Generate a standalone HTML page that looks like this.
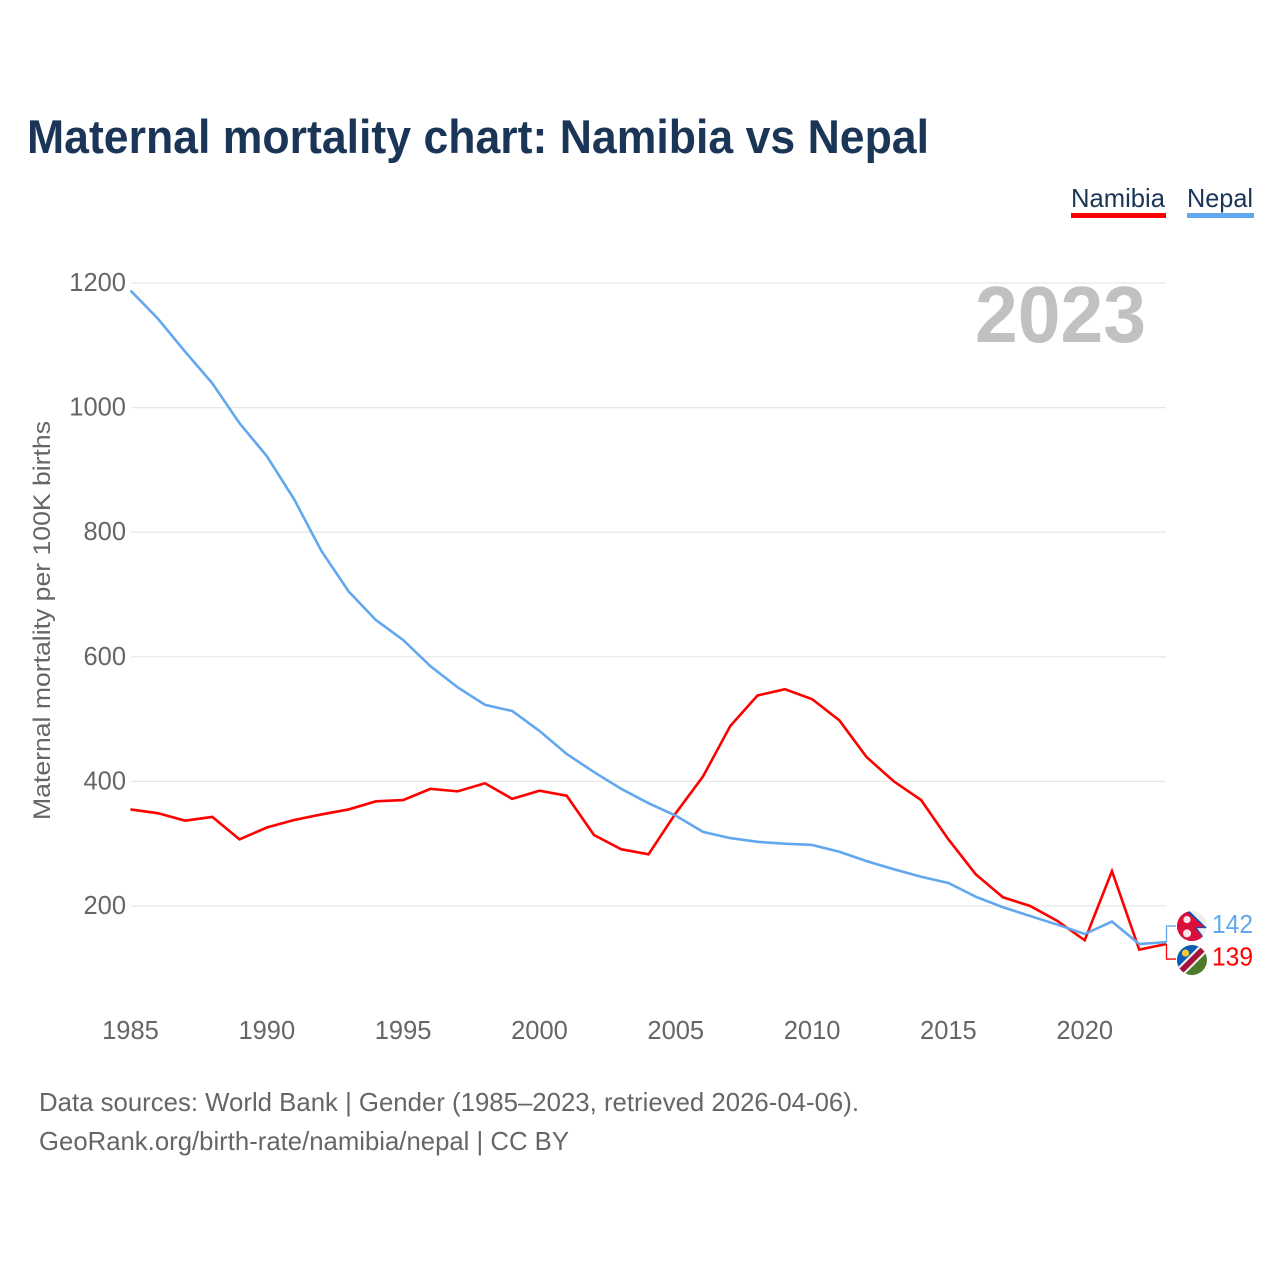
<!DOCTYPE html>
<html lang="en">
<head>
<meta charset="utf-8">
<title>Maternal mortality chart: Namibia vs Nepal</title>
<style>
html,body{margin:0;padding:0;background:#fff;}
svg{display:block;font-family:"Liberation Sans",sans-serif;}
</style>
</head>
<body>
<svg id="chart" xmlns="http://www.w3.org/2000/svg" width="1280" height="1280" viewBox="0 0 1280 1280">
  <defs>
    <clipPath id="flag-clip"><circle cx="0" cy="0" r="15"/></clipPath>
  </defs>
  <rect x="0" y="0" width="1280" height="1280" fill="#ffffff"/>
  <text x="27" y="153" font-size="47" font-weight="700" fill="#1b3557" textLength="902" lengthAdjust="spacingAndGlyphs">Maternal mortality chart: Namibia vs Nepal</text>
  <g id="grid"></g>
  <g id="yticks"></g>
  <g id="xticks"></g>
  <text x="975" y="342" font-size="80" font-weight="700" fill="#c1c1c1" textLength="171" lengthAdjust="spacingAndGlyphs">2023</text>
  <text transform="translate(50,820) rotate(-90)" font-size="24" fill="#666666" textLength="399" lengthAdjust="spacingAndGlyphs">Maternal mortality per 100K births</text>
  <g id="series"></g>
  <g id="end-labels"></g>
  <g>
    <text x="1071" y="207" font-size="26" fill="#1b3557" textLength="94" lengthAdjust="spacingAndGlyphs">Namibia</text>
    <rect x="1071" y="213" width="95" height="5" fill="#ff0000"/>
    <text x="1187" y="207" font-size="26" fill="#1b3557" textLength="66" lengthAdjust="spacingAndGlyphs">Nepal</text>
    <rect x="1187" y="213" width="67" height="5" fill="#62a8ee"/>
  </g>
  <text x="39" y="1111" font-size="26" fill="#666666" textLength="820" lengthAdjust="spacingAndGlyphs">Data sources: World Bank | Gender (1985–2023, retrieved 2026-04-06).</text>
  <text x="39" y="1150" font-size="26" fill="#666666" textLength="530" lengthAdjust="spacingAndGlyphs">GeoRank.org/birth-rate/namibia/nepal | CC BY</text>
</svg>
<script>
const years = [1985,1986,1987,1988,1989,1990,1991,1992,1993,1994,1995,1996,1997,1998,1999,2000,2001,2002,2003,2004,2005,2006,2007,2008,2009,2010,2011,2012,2013,2014,2015,2016,2017,2018,2019,2020,2021,2022,2023];
const nepalValues = [1188,1143,1090,1039,975,922,853,770,705,659,627,585,551,523,513,481,444,415,388,365,345,319,309,303,300,298,287,272,259,247,237,215,198,184,170,155,175,139,142];
const namibiaValues = [355,349,337,343,307,326,338,347,355,368,370,388,384,397,372,385,377,314,291,283,349,408,489,538,548,532,498,439,400,370,307,251,214,200,176,145,256,130,139];
const yTickValues = [200,400,600,800,1000,1200];
const xTickYears = [1985,1990,1995,2000,2005,2010,2015,2020];

const NS = 'http://www.w3.org/2000/svg';
function xScale(year) { return 130.5 + (year - 1985) * (1166.5 - 130.5) / 38; }
function yScale(value) { return 906 + (200 - value) * (906 - 283) / 1000; }
function make(tag, parent, attrs) {
  const el = document.createElementNS(NS, tag);
  for (const k in attrs) el.setAttribute(k, attrs[k]);
  parent.appendChild(el);
  return el;
}

const grid = document.getElementById('grid');
const yticks = document.getElementById('yticks');
yTickValues.forEach(function (v) {
  const line = make('line', grid, {x1: 131, x2: 1166, y1: yScale(v), y2: yScale(v), stroke: '#e8e8e8', 'stroke-width': 1.3});
  
  
  const t = make('text', yticks, {x: 126, y: yScale(v) + 8, 'text-anchor': 'end', 'font-size': 25.5, fill: '#666666'});
  
  
  t.textContent = String(v);
});

const xticks = document.getElementById('xticks');
xTickYears.forEach(function (yr) {
  const t = make('text', xticks, {x: xScale(yr), y: 1039, 'text-anchor': 'middle', 'font-size': 25.5, fill: '#666666'});
  
  
  t.textContent = String(yr);
});

function linePath(values) {
  return values.map(function (v, i) { return (i ? 'L' : 'M') + xScale(years[i]).toFixed(2) + ' ' + yScale(v).toFixed(2); }).join(' ');
}
const series = document.getElementById('series');
const namibiaLine = make('path', series, {d: linePath(namibiaValues), fill: 'none', stroke: '#ff0000', 'stroke-width': 2.6, 'stroke-linejoin': 'miter'});


const nepalLine = make('path', series, {d: linePath(nepalValues), fill: 'none', stroke: '#62a8ee', 'stroke-width': 2.6, 'stroke-linejoin': 'miter'});



/* end labels: placed around the midpoint of the two final values */
const lastNepal = nepalValues[nepalValues.length - 1];
const lastNamibia = namibiaValues[namibiaValues.length - 1];
const endX = xScale(years[years.length - 1]);
const midY = (yScale(lastNepal) + yScale(lastNamibia)) / 2;
const nepalLabelY = midY - 17;
const namibiaLabelY = midY + 17;
const endLabels = document.getElementById('end-labels');

const nepalConn = make('path', endLabels, {d: 'M' + endX + ' ' + yScale(lastNepal) + ' V' + nepalLabelY + ' H1176', fill: 'none', stroke: '#62a8ee', 'stroke-width': 1.3});


const namibiaConn = make('path', endLabels, {d: 'M' + endX + ' ' + yScale(lastNamibia) + ' V' + (namibiaLabelY - 1) + ' H1176', fill: 'none', stroke: '#ff0000', 'stroke-width': 1.3});



/* Nepal flag */
const nepalFlag = make('g', endLabels, {transform: 'translate(1192,' + nepalLabelY + ')', 'clip-path': 'url(#flag-clip)'});


make('rect', nepalFlag, {x: -16, y: -16, width: 32, height: 32, fill: '#eeeeee'});
make('polygon', nepalFlag, {points: '-16,-16 -3,-15.5 15,2 5,2 15,15.5 -16,16', fill: '#0a50b0'});
make('polygon', nepalFlag, {points: '-16,-16 -4.5,-14 12.5,1 2.5,1 13,14 -16,16', fill: '#dc0f3c'});
make('circle', nepalFlag, {cx: -5, cy: -6.5, r: 3.6, fill: '#f7e6ea'});
make('circle', nepalFlag, {cx: -5, cy: 7.3, r: 4, fill: '#f7e6ea'});

/* Namibia flag */
const namibiaFlag = make('g', endLabels, {transform: 'translate(1192,' + namibiaLabelY + ')', 'clip-path': 'url(#flag-clip)'});


make('rect', namibiaFlag, {x: -16, y: -16, width: 32, height: 32, fill: '#4f7a2a'});
make('polygon', namibiaFlag, {points: '-16,-16 16,-16 -16,16', fill: '#0b5cb5'});
make('polygon', namibiaFlag, {points: '-16,9 9,-16 16,-16 16,-9 -9,16 -16,16', fill: '#f2f2f2'});
make('polygon', namibiaFlag, {points: '-16,12 12,-16 16,-16 16,-12 -12,16 -16,16', fill: '#a3133a'});
make('circle', namibiaFlag, {cx: -6.5, cy: -7, r: 3.6, fill: '#f5c932'});

const nepalValueLabel = make('text', endLabels, {x: 1212, y: nepalLabelY + 7, 'font-size': 26, fill: '#62a8ee', textLength: 41, lengthAdjust: 'spacingAndGlyphs'});


nepalValueLabel.textContent = String(lastNepal);
const namibiaValueLabel = make('text', endLabels, {x: 1212, y: namibiaLabelY + 5.5, 'font-size': 26, fill: '#ff0000', textLength: 41, lengthAdjust: 'spacingAndGlyphs'});


namibiaValueLabel.textContent = String(lastNamibia);
</script>
</body>
</html>
